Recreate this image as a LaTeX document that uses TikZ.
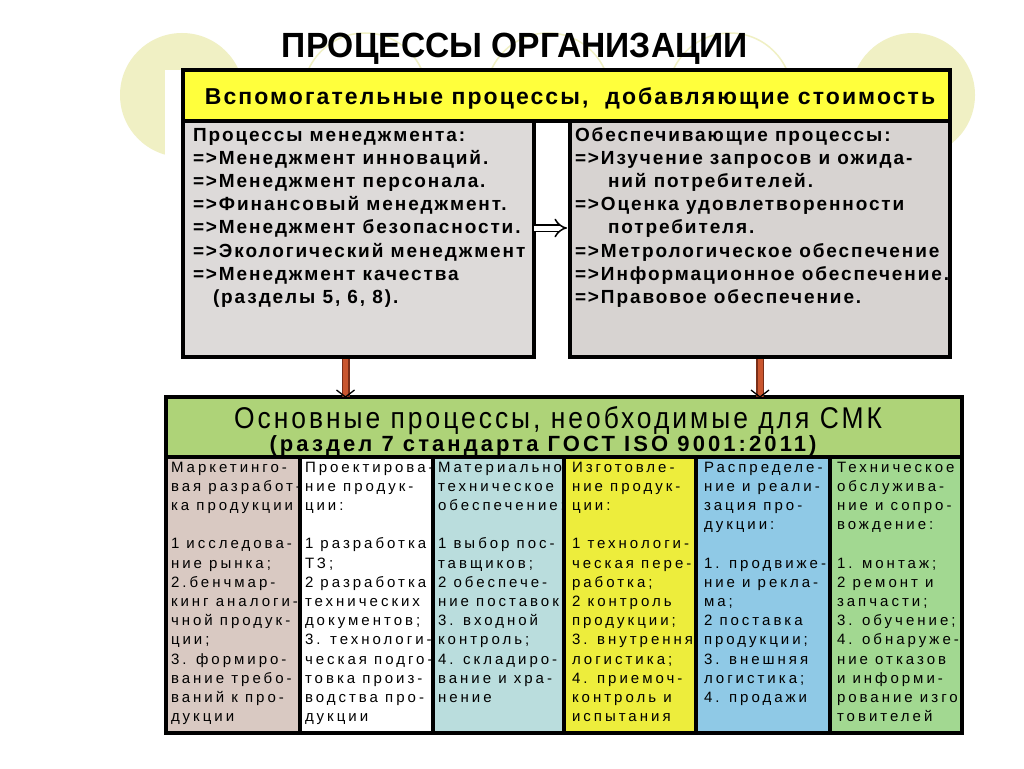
\documentclass[tikz,border=0pt]{standalone}
\usepackage{fontspec}
\setmainfont{Liberation Sans}
\newfontfamily\titlefont[FakeStretch=0.96]{Liberation Sans}
\newfontfamily\hdrfont[LetterSpace=9]{Liberation Sans}
\newfontfamily\boxfont[LetterSpace=10]{Liberation Sans}
\newfontfamily\greenfont[LetterSpace=10,FakeStretch=0.88]{Liberation Sans}
\newfontfamily\greenfontb[LetterSpace=14]{Liberation Sans}
\newfontfamily\cellfont[LetterSpace=20]{Liberation Sans}
\usetikzlibrary{arrows.meta}
\definecolor{circ}{HTML}{F0F0C4}
\definecolor{hdryellow}{HTML}{FFFF3C}
\definecolor{boxgray}{HTML}{DDDAD9}
\definecolor{boxgray2}{HTML}{D7D3D1}
\definecolor{hdrgreen}{HTML}{AED378}
\definecolor{colA}{HTML}{D9C9C2}
\definecolor{colC}{HTML}{BADDDD}
\definecolor{colD}{HTML}{EDED3C}
\definecolor{colE}{HTML}{8FC9E6}
\definecolor{colF}{HTML}{A2D891}
\definecolor{arrowbrown}{HTML}{C9562F}
\definecolor{arrowdark}{HTML}{7A2E18}
\newcommand{\celltext}[1]{\parbox[t]{200pt}{\cellfont\fontsize{15}{19.2}\selectfont #1}}
\newcommand{\boxtext}[1]{\parbox[t]{420pt}{\boxfont\bfseries\fontsize{19}{23.2}\selectfont #1}}
\tikzset{
  frame/.style={draw=black, line width=4pt, inner sep=0pt, outer sep=0pt, anchor=north west},
  txt/.style={inner sep=0pt, outer sep=0pt, anchor=base west},
  ctxt/.style={inner sep=0pt, outer sep=0pt, anchor=base},
  shaft/.style={line width=8pt, draw=arrowdark},
  shaftin/.style={line width=5pt, draw=arrowbrown},
  barb/.style={draw=black, line width=1.3pt},
  hollow/.style={double=white, double distance=5pt, line width=1.5pt, -{Implies}},
  ring/.style={draw=circ, line width=1.5pt},
}
\begin{document}
\begin{tikzpicture}[x=1pt,y=-1pt]
\useasboundingbox (0,0) rectangle (1024,768);
\fill[white] (0,0) rectangle (1024,768);
% background circles
\fill[circ] (182,95) circle (62pt);
\fill[circ] (913,95) circle (62pt);
\draw[ring] (365,95) circle (62pt);
\draw[ring] (548,95) circle (62pt);
\draw[ring] (730,95) circle (62pt);
\fill[white] (165,70) rectangle (952,745);
% title
\node[ctxt] (title) at (515,58) {\titlefont\bfseries\fontsize{35}{38}\selectfont ПРОЦЕССЫ ОРГАНИЗАЦИИ};
% upper boxes
\node[frame, fill=boxgray, minimum width=351pt, minimum height=236pt] (mgmt) at (183,121) {};
\node[frame, fill=boxgray2, minimum width=380pt, minimum height=236pt] (supp) at (570,121) {};
\node[frame, fill=hdryellow, minimum width=767pt, minimum height=51pt] (hdr) at (183,70) {};
\node[ctxt] (hdrtext) at (570,104) {\hdrfont\bfseries\fontsize{23}{26}\selectfont Вспомогательные процессы,\ \ добавляющие стоимость};
\node[txt] (mgmttext) at (193,141) {\boxtext{Процессы менеджмента:\\
=>Менеджмент инноваций.\\
=>Менеджмент персонала.\\
=>Финансовый менеджмент.\\
=>Менеджмент безопасности.\\
=>Экологический менеджмент\\
=>Менеджмент качества\\
\hspace*{20pt}(разделы 5, 6, 8).}};
\node[txt] (supptext) at (575,141) {\boxtext{Обеспечивающие процессы:\\
=>Изучение запросов и ожида-\\
\hspace*{33pt}ний потребителей.\\
=>Оценка удовлетворенности\\
\hspace*{33pt}потребителя.\\
=>Метрологическое обеспечение\\
=>Информационное обеспечение.\\
=>Правовое обеспечение.}};
\draw[hollow] ([yshift=11pt]mgmt.east) -- ([yshift=11pt,xshift=-3pt]supp.west);
% lower block
\node[frame, fill=hdrgreen, minimum width=796pt, minimum height=60pt] (main) at (166,397) {};
\node[ctxt] (maint1) at (558,428) {\greenfont\fontsize{30}{32}\selectfont Основные процессы, необходимые для СМК};
\node[ctxt] (maint2) at (543,451) {\greenfontb\bfseries\fontsize{22}{25}\selectfont (раздел 7 стандарта ГОСТ ISO 9001:2011)};
% arrows down
\coordinate (a1) at ([xshift=-13pt]mgmt.south |- main.north);
\coordinate (a2) at (supp.south |- main.north);
\draw[shaft] ([xshift=-13pt,yshift=-2pt]mgmt.south) -- (a1);
\draw[shaftin] ([xshift=-13pt,yshift=-2pt]mgmt.south) -- (a1);
\draw[barb] ([shift={(-9pt,7pt)}]a1) -- (a1) -- ([shift={(9pt,7pt)}]a1);
\draw[shaft] ([yshift=-2pt]supp.south) -- (a2);
\draw[shaftin] ([yshift=-2pt]supp.south) -- (a2);
\draw[barb] ([shift={(-9pt,7pt)}]a2) -- (a2) -- ([shift={(9pt,7pt)}]a2);
% columns
\node[frame, fill=colA, minimum width=134pt, minimum height=276pt] (c1) at (166,457) {};
\node[frame, fill=white, minimum width=133pt, minimum height=276pt] (c2) at (300,457) {};
\node[frame, fill=colC, minimum width=131pt, minimum height=276pt] (c3) at (433,457) {};
\node[frame, fill=colD, minimum width=132pt, minimum height=276pt] (c4) at (564,457) {};
\node[frame, fill=colE, minimum width=134pt, minimum height=276pt] (c5) at (696,457) {};
\node[frame, fill=colF, minimum width=132pt, minimum height=276pt] (c6) at (830,457) {};
\begin{scope}
\clip ([xshift=2pt]c1.north west) rectangle ([xshift=-2pt]c1.south east);
\node[txt] (t1) at (171,472) {\celltext{Маркетинго-\\вая разработ-\\ка продукции\\[19.2pt]1 исследова-\\ние рынка;\\2.бенчмар-\\кинг аналоги-\\чной продук-\\ции;\\3. формиро-\\вание требо-\\ваний к про-\\дукции}};
\end{scope}
\begin{scope}
\clip ([xshift=2pt]c2.north west) rectangle ([xshift=-2pt]c2.south east);
\node[txt] (t2) at (305,472) {\celltext{Проектирова-\\ние продук-\\ции:\\[19.2pt]1 разработка\\ТЗ;\\2 разработка\\технических\\документов;\\3. технологи-\\ческая подго-\\товка произ-\\водства про-\\дукции}};
\end{scope}
\begin{scope}
\clip ([xshift=2pt]c3.north west) rectangle ([xshift=-2pt]c3.south east);
\node[txt] (t3) at (438,472) {\celltext{Материально-\\техническое\\обеспечение:\\[19.2pt]1 выбор пос-\\тавщиков;\\2 обеспече-\\ние поставок\\3. входной\\контроль;\\4. складиро-\\вание и хра-\\нение}};
\end{scope}
\begin{scope}
\clip ([xshift=2pt]c4.north west) rectangle ([xshift=-2pt]c4.south east);
\node[txt] (t4) at (572,472) {\celltext{Изготовле-\\ние продук-\\ции:\\[19.2pt]1 технологи-\\ческая пере-\\работка;\\2 контроль\\продукции;\\3. внутренняя\\логистика;\\4. приемоч-\\контроль и\\испытания}};
\end{scope}
\begin{scope}
\clip ([xshift=2pt]c5.north west) rectangle ([xshift=-2pt]c5.south east);
\node[txt] (t5) at (704,472) {\celltext{Распределе-\\ние и реали-\\зация про-\\дукции:\\[19.2pt]1. продвиже-\\ние и рекла-\\ма;\\2 поставка\\продукции;\\3. внешняя\\логистика;\\4. продажи}};
\end{scope}
\begin{scope}
\clip ([xshift=2pt]c6.north west) rectangle ([xshift=-2pt]c6.south east);
\node[txt] (t6) at (837,472) {\celltext{Техническое\\обслужива-\\ние и сопро-\\вождение:\\[19.2pt]1. монтаж;\\2 ремонт и\\запчасти;\\3. обучение;\\4. обнаруже-\\ние отказов\\и информи-\\рование изго\\товителей}};
\end{scope}
\end{tikzpicture}
\end{document}
